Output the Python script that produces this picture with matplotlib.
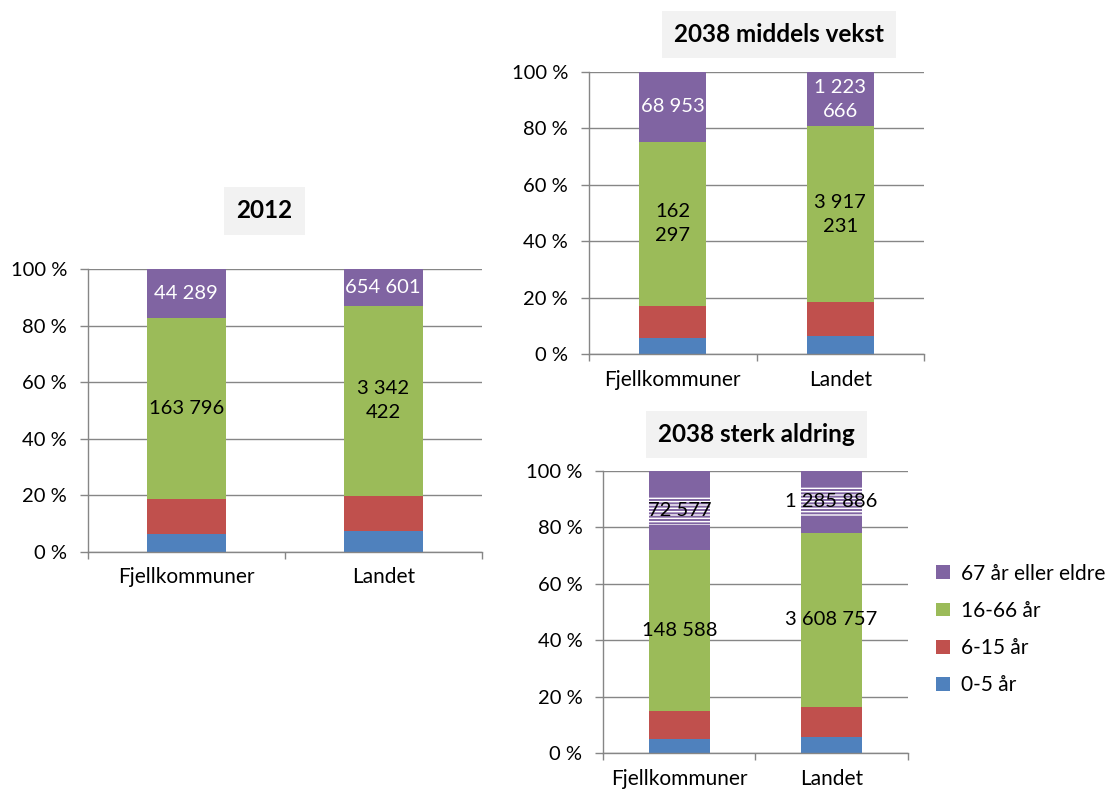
import numpy as np
import matplotlib
matplotlib.use('Agg')
import matplotlib.pyplot as plt
from matplotlib.patches import Patch
from matplotlib.ticker import FuncFormatter, FixedLocator

plt.rcParams['font.family'] = ['Lato', 'DejaVu Sans']
plt.rcParams['hatch.color'] = 'white'
plt.rcParams['hatch.linewidth'] = 1.0

categories = ['Fjellkommuner', 'Landet']
series = ['0-5 år', '6-15 år', '16-66 år', '67 år eller eldre']
colors = ['#4F81BD', '#C0504D', '#9BBB59', '#8064A2']

age_0_5_2012 = [15950, 368600]
age_6_15_2012 = [31500, 622600]
age_16_66_2012 = [163796, 3342422]
age_67_2012 = [44289, 654601]

age_0_5_mid = [15870, 417000]
age_6_15_mid = [32000, 758000]
age_16_66_mid = [162297, 3917231]
age_67_mid = [68953, 1223666]

age_0_5_sterk = [12880, 332000]
age_6_15_sterk = [26400, 636000]
age_16_66_sterk = [148588, 3608757]
age_67_sterk = [72577, 1285886]

# labels that wrap onto two lines in the original (panel, series index, category index)
wrapped = {('2012', 2, 1), ('mid', 2, 0), ('mid', 2, 1), ('mid', 3, 1)}

GRID = '#868686'
FS = 14.5


def fmt(v):
    return f'{v:,}'.replace(',', ' ')


def draw_panel(ax, key, groups, top_color, hatch_top=False):
    x = np.arange(len(categories))
    data = np.array(groups, dtype=float)
    pct = data / data.sum(axis=0) * 100
    bottom = np.zeros(len(categories))
    for i, row in enumerate(pct):
        ax.bar(x, row, 0.4, bottom=bottom, color=colors[i], zorder=2)
        if i >= 2:
            for j in range(len(categories)):
                s = fmt(int(data[i, j]))
                if (key, i, j) in wrapped:
                    parts = s.split(' ')
                    s = ' '.join(parts[:-1]) + '\n' + parts[-1]
                tc = 'black' if i == 2 else top_color
                kw = {}
                if i == 3 and hatch_top:
                    kw['bbox'] = dict(facecolor='none', edgecolor='white', hatch='-----',
                                      linewidth=0, boxstyle='square,pad=0.3')
                ax.text(x[j], bottom[j] + row[j] / 2, s, ha='center', va='center',
                        color=tc, fontsize=FS, linespacing=1.5, zorder=3, **kw)
        bottom += row
    ax.set_xlim(-0.5, len(categories) - 0.5)
    ax.set_ylim(0, 100)
    ax.set_yticks(np.arange(0, 101, 20))
    ax.yaxis.set_major_formatter(FuncFormatter(lambda v, p: f'{v:.0f} %'))
    ax.set_xticks(x)
    ax.set_xticklabels(categories)
    ax.xaxis.set_minor_locator(FixedLocator(np.arange(-0.5, len(categories), 1.0)))
    ax.tick_params(axis='x', which='major', length=0, pad=11, labelsize=15)
    ax.tick_params(axis='x', which='minor', length=5, color=GRID, width=1)
    ax.tick_params(axis='y', length=6, color=GRID, width=1, pad=9, labelsize=FS)
    ax.grid(axis='y', color=GRID, linewidth=1, zorder=0)
    ax.set_axisbelow(True)
    for side in ['top', 'right']:
        ax.spines[side].set_visible(False)
    for side in ['left', 'bottom']:
        ax.spines[side].set_color(GRID)
        ax.spines[side].set_linewidth(1)


fig = plt.figure(figsize=(11.12, 7.94), dpi=100)

ax1 = fig.add_axes([0.0791, 0.3048, 0.3540, 0.3564])
draw_panel(ax1, '2012', [age_0_5_2012, age_6_15_2012, age_16_66_2012, age_67_2012], 'white')

ax2 = fig.add_axes([0.5297, 0.5538, 0.3013, 0.3559])
draw_panel(ax2, 'mid', [age_0_5_mid, age_6_15_mid, age_16_66_mid, age_67_mid], 'white')

ax3 = fig.add_axes([0.5425, 0.0512, 0.2737, 0.3559])
draw_panel(ax3, 'sterk', [age_0_5_sterk, age_6_15_sterk, age_16_66_sterk, age_67_sterk], 'black',
           hatch_top=True)

title_box = dict(facecolor='#F2F2F2', edgecolor='none', boxstyle='square,pad=0.5')
fig.text(0.2379, 0.7343, '2012', ha='center', va='center', fontsize=17.5, fontweight='bold', bbox=title_box)
fig.text(0.7005, 0.9565, '2038 middels vekst', ha='center', va='center', fontsize=17.5,
         fontweight='bold', bbox=title_box)
fig.text(0.6802, 0.4530, '2038 sterk aldring', ha='center', va='center', fontsize=17.5,
         fontweight='bold', bbox=title_box)

handles = [Patch(facecolor=c, edgecolor='none') for c in colors][::-1]
fig.legend(handles, series[::-1], loc='upper left', bbox_to_anchor=(0.8417, 0.290),
           frameon=False, fontsize=15, handlelength=0.65, handleheight=0.65,
           handletextpad=0.55, labelspacing=0.82, borderpad=0, borderaxespad=0)

fig.savefig('out.png', dpi=100)
